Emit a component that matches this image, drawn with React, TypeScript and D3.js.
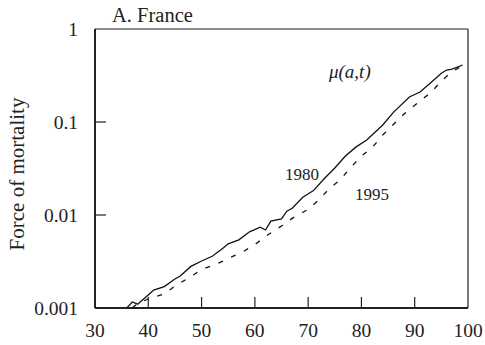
import React from "react";
import * as d3 from "d3";

const ages1980 = [36, 37, 38, 40, 41, 43, 45, 46, 48, 50, 52, 54, 55, 57, 59, 61, 62, 63, 65, 66, 67, 69, 71, 73, 75, 77, 79, 81, 84, 86, 89, 91, 93, 95, 96, 97, 99];
const mu1980 = [0.00101, 0.00116, 0.0011, 0.00138, 0.00156, 0.0017, 0.00205, 0.00221, 0.0028, 0.0032, 0.0036, 0.0044, 0.0049, 0.0054, 0.0066, 0.0074, 0.0069, 0.0086, 0.0091, 0.011, 0.0118, 0.0155, 0.0183, 0.0245, 0.032, 0.043, 0.054, 0.064, 0.093, 0.127, 0.186, 0.21, 0.265, 0.335, 0.362, 0.371, 0.41];

const ages1995 = [37, 38, 40, 43, 45, 48, 50, 53, 55, 58, 60, 62, 65, 67, 70, 72, 74, 76, 78, 80, 82, 84, 86, 88, 91, 93, 95, 97, 98, 99];
const mu1995 = [0.001, 0.00112, 0.00125, 0.00142, 0.00172, 0.00218, 0.0026, 0.003, 0.0034, 0.0041, 0.0048, 0.0059, 0.0076, 0.0092, 0.0115, 0.0145, 0.0193, 0.0238, 0.0325, 0.043, 0.053, 0.0724, 0.094, 0.122, 0.168, 0.207, 0.275, 0.35, 0.375, 0.405];

const xTicks = [30, 40, 50, 60, 70, 80, 90, 100];
const yTicks = [0.001, 0.01, 0.1, 1];
const yTickLabels = ["0.001", "0.01", "0.1", "1"];

const FONT = "'Liberation Serif', 'DejaVu Serif', serif";

export default function App() {
  const W = 485, H = 345;
  const left = 95, right = 468, top = 29, bottom = 308;
  const x = d3.scaleLinear().domain([30, 100]).range([left, right]);
  const y = d3.scaleLog().domain([0.001, 1]).range([bottom, top]);
  const line = d3
    .line<[number, number]>()
    .x((d) => x(d[0]))
    .y((d) => y(d[1]));
  const d1980 = line(ages1980.map((a, i) => [a, mu1980[i]] as [number, number])) || "";
  const d1995 = line(ages1995.map((a, i) => [a, mu1995[i]] as [number, number])) || "";
  const fs = 19.5;

  return (
    <svg width={W} height={H} style={{ position: "absolute", left: 0, top: 0, background: "#fff" }}>
      <rect x={0} y={0} width={W} height={H} fill="#fff" />
      {/* frame */}
      <line x1={left} y1={top} x2={right} y2={top} stroke="#666" strokeWidth={1.3} />
      <line x1={right} y1={top} x2={right} y2={bottom} stroke="#333" strokeWidth={1.3} />
      <line x1={left} y1={top} x2={left} y2={bottom} stroke="#222" strokeWidth={2} />
      <line x1={left} y1={bottom} x2={right} y2={bottom} stroke="#222" strokeWidth={2} />
      {/* ticks */}
      {xTicks.slice(1, -1).map((t) => (
        <line key={"xt" + t} x1={x(t)} x2={x(t)} y1={bottom} y2={bottom - 11} stroke="#222" strokeWidth={1.2} />
      ))}
      {yTicks.slice(1, -1).map((t) => (
        <line key={"yt" + t} x1={left} x2={left + 11} y1={y(t)} y2={y(t)} stroke="#222" strokeWidth={1.2} />
      ))}
      {xTicks.map((t) => (
        <text key={"xl" + t} x={x(t)} y={337} textAnchor="middle" fontFamily={FONT} fontSize={fs} fill="#222">
          {t}
        </text>
      ))}
      {yTicks.map((t, i) => (
        <text key={"yl" + t} x={78} y={y(t)} dy="0.35em" textAnchor="end" fontFamily={FONT} fontSize={fs} fill="#222">
          {yTickLabels[i]}
        </text>
      ))}
      {/* curves */}
      <path d={d1980} fill="none" stroke="#111" strokeWidth={1.3} />
      <path d={d1995} fill="none" stroke="#111" strokeWidth={1.3} strokeDasharray="5,9" />
      {/* labels */}
      <text x={112} y={22} fontFamily={FONT} fontSize={20.5} fill="#222">A. France</text>
      <text x={285} y={180} fontFamily={FONT} fontSize={17} fill="#222">1980</text>
      <text x={355} y={200} fontFamily={FONT} fontSize={17} fill="#222">1995</text>
      <text x={329} y={78} fontFamily={FONT} fontSize={19} fontStyle="italic" fill="#222">μ(a,t)</text>
      <text
        transform={`translate(24,${174}) rotate(-90)`}
        textAnchor="middle"
        fontFamily={FONT}
        fontSize={21}
        fill="#222"
      >
        Force of mortality
      </text>
    </svg>
  );
}
